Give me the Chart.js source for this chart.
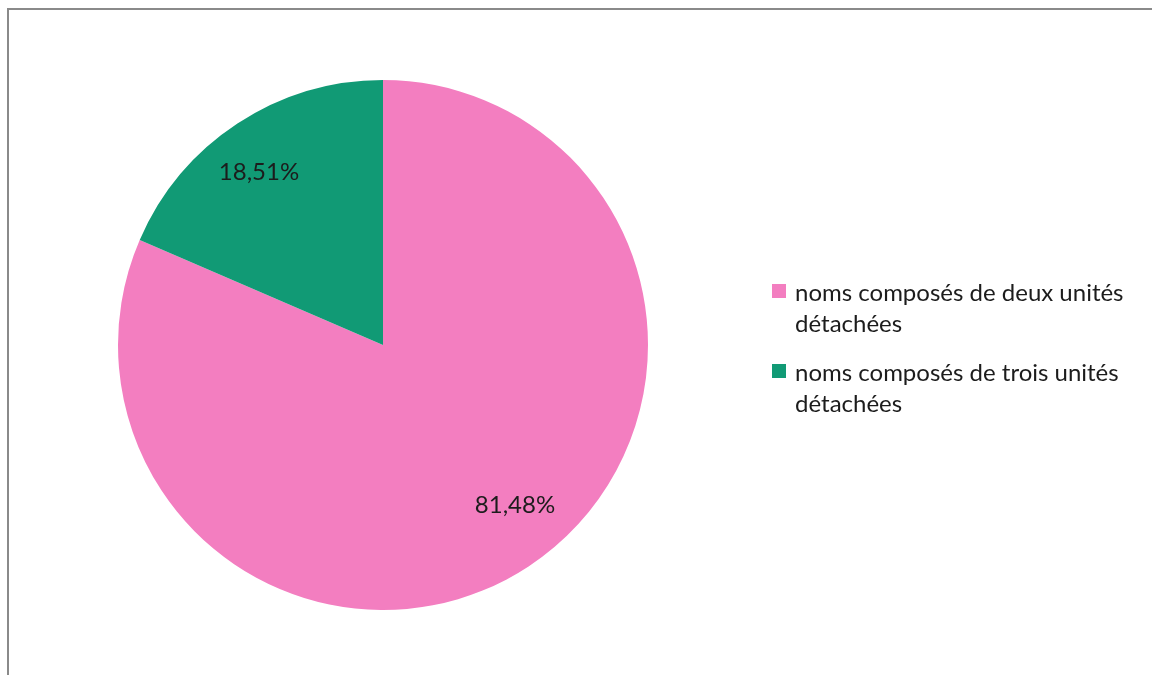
<!DOCTYPE html>
<html>
<head>
<meta charset="utf-8">
<script src="https://cdn.jsdelivr.net/npm/chart.js@4.4.1/dist/chart.umd.min.js"></script>
<style>
  html, body { margin: 0; padding: 0; background: #fff; }
  #wrap { position: relative; width: 1152px; height: 675px; overflow: hidden; }
  #frame { position: absolute; left: 7px; top: 8px; width: 1160px; height: 680px;
           border-left: 2px solid #8a8a8a; border-top: 2px solid #8a8a8a; box-sizing: border-box; }
  #pie { position: absolute; left: 0; top: 0; }
  #legend { position: absolute; left: 772px; top: 276px; width: 380px;
            font-family: Lato, "Open Sans", sans-serif; font-size: 24px; color: #1c1c1c; white-space: nowrap; }
  .item { position: relative; padding-left: 23px; line-height: 31px; margin-bottom: 18px; }
  .sw { position: absolute; left: 0; top: 8px; width: 14px; height: 14px; }
</style>
</head>
<body>
<div id="wrap">
  <div id="frame"></div>
  <canvas id="pie" width="1152" height="675"></canvas>
  <div id="legend"></div>
</div>
<script>
const categories = [
  "noms composés de deux unités détachées",
  "noms composés de trois unités détachées"
];
const shares = [81.48, 18.51];
const sliceColors = ["#F37EC0", "#119A75"];
const valueLabels = ["81,48%", "18,51%"];

// Writes each slice's percentage inside the slice
const sliceLabels = {
  id: "sliceLabels",
  afterDatasetsDraw(chart, args, opts) {
    const ctx = chart.ctx;
    const meta = chart.getDatasetMeta(0);
    ctx.save();
    ctx.font = "24px Lato, 'Open Sans', sans-serif";
    ctx.fillStyle = "#1c1c1c";
    ctx.textAlign = "center";
    ctx.textBaseline = "middle";
    meta.data.forEach((arc, i) => {
      const p = arc.getProps(["x", "y", "startAngle", "endAngle", "outerRadius"], true);
      const mid = (p.startAngle + p.endAngle) / 2;
      const r = p.outerRadius * 0.79;
      const nudge = opts.nudge[i] || [0, 0];
      ctx.fillText(valueLabels[i], p.x + Math.cos(mid) * r + nudge[0], p.y + Math.sin(mid) * r + nudge[1]);
    });
    ctx.restore();
  }
};

const chart = new Chart(document.getElementById("pie"), {
  type: "pie",
  data: {
    labels: categories,
    datasets: [{
      data: shares,
      backgroundColor: sliceColors,
      borderWidth: 0
    }]
  },
  options: {
    responsive: false,
    animation: false,
    layout: { padding: { left: 118, right: 504, top: 80, bottom: 65 } },
    plugins: {
      legend: { display: false },
      tooltip: { enabled: false },
      sliceLabels: { nudge: [[17, -15], [-9, 2]] }
    }
  },
  plugins: [sliceLabels]
});

// Legend built from the chart's own labels and colours
const legend = document.getElementById("legend");
chart.data.labels.forEach((label, i) => {
  const item = document.createElement("div");
  item.className = "item";
  const sw = document.createElement("span");
  sw.className = "sw";
  sw.style.background = chart.data.datasets[0].backgroundColor[i];
  item.appendChild(sw);
  const cut = label.lastIndexOf(" ");
  item.appendChild(document.createTextNode(label.slice(0, cut)));
  item.appendChild(document.createElement("br"));
  item.appendChild(document.createTextNode(label.slice(cut + 1)));
  legend.appendChild(item);
});
</script>
</body>
</html>
